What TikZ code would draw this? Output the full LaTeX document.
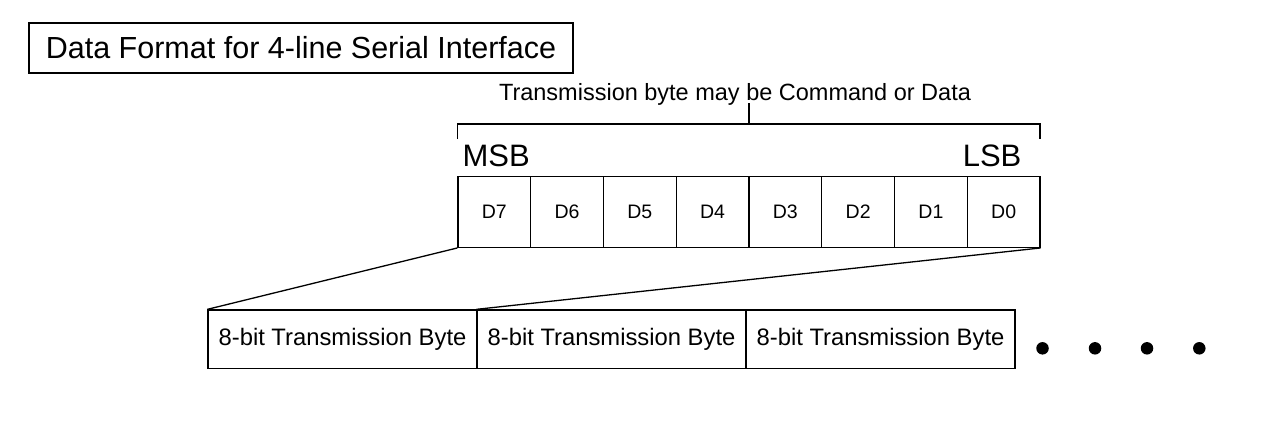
\documentclass[tikz,border=0pt]{standalone}
\usepackage{fontspec}
\setmainfont{Liberation Sans}
\begin{document}
\begin{tikzpicture}[x=1pt,y=-1pt,line width=1.3pt,
  titlebox/.style={draw,inner sep=0pt,minimum width=544pt,minimum height=50pt,font=\fontsize{30.5}{35}\selectfont},
  bitcell/.style={draw,inner sep=0pt,minimum width=72.75pt,minimum height=70.6pt,font=\fontsize{19.5}{23}\selectfont},
  bytebox/.style={draw,inner sep=0pt,minimum width=269pt,minimum height=58.5pt,font=\fontsize{23.8}{28}\selectfont},
  sidelabel/.style={inner sep=0pt,font=\fontsize{31}{36}\selectfont},
  notelabel/.style={inner sep=0pt,font=\fontsize{23.5}{28}\selectfont},
  bigdot/.style={circle,fill=black,inner sep=0pt,minimum size=12.5pt}]
\useasboundingbox (0,0) rectangle (1288,431);
\node[titlebox] (title) at (301,48) {Data Format for 4-line Serial Interface};
\node[notelabel,anchor=base] (note) at (735,100.7) {Transmission byte may be Command or Data};
% bit cells
\foreach \n/\i in {D7/0,D6/1,D5/2,D4/3,D3/4,D2/5,D1/6,D0/7}{
  \node[bitcell] (\n) at ({458+72.75*(\i+0.5)},212) {\n};
}
\node[sidelabel,anchor=base west] (msb) at (462,166) {MSB};
\node[sidelabel,anchor=base east] (lsb) at (1022,166) {LSB};
% bracket
\coordinate (brL) at (457.5,139);
\coordinate (brR) at (1040,139);
\coordinate (brM) at (749,124);
\coordinate (brTop) at (749,102.7);
\draw (brL) |- (brR |- brM) -- (brR);
\draw (brM) -- (brTop);
% bytes
\node[bytebox] (B1) at (342.5,339.25) {8-bit Transmission Byte};
\node[bytebox] (B2) at (611.5,339.25) {8-bit Transmission Byte};
\node[bytebox] (B3) at (880.5,339.25) {8-bit Transmission Byte};
\draw (D7.south west) -- (B1.north west);
\draw (D0.south east) -- (B2.north west);
% dots
\node[bigdot] (dot1) at (1042.5,348.3) {};
\node[bigdot] (dot2) at (1095,348.3) {};
\node[bigdot] (dot3) at (1147,348.3) {};
\node[bigdot] (dot4) at (1199.3,348.3) {};
\end{tikzpicture}
\end{document}
